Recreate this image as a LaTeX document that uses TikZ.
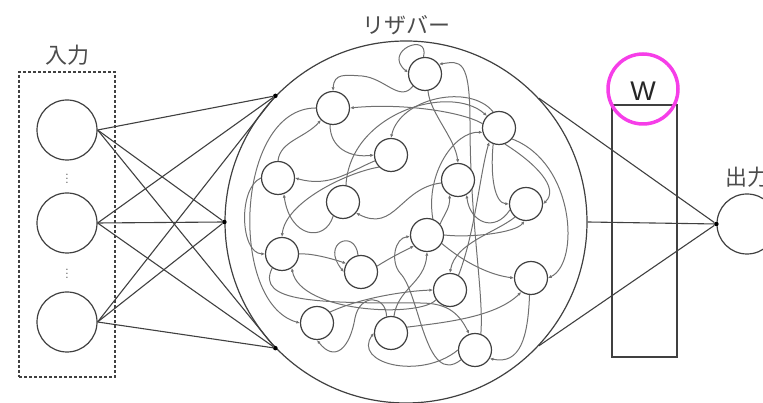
\documentclass[tikz,border=0pt]{standalone}
\usepackage{fontspec}
\setsansfont{Liberation Sans}
\newfontfamily\jpfont{Noto Sans CJK JP}
\usetikzlibrary{arrows.meta,positioning,backgrounds}
\definecolor{ringpink}{RGB}{246,62,232}
\definecolor{edgegray}{RGB}{64,64,64}
\definecolor{linkgray}{RGB}{112,112,112}

\begin{document}
\begin{tikzpicture}[x=1pt, y=1pt, >={Latex[length=3.6pt,width=3.2pt]},
    unit/.style={circle, draw=edgegray, line width=1.2pt, fill=white, minimum size=60pt, inner sep=0pt},
    neuron/.style={circle, draw=edgegray, line width=1.2pt, fill=white, minimum size=33pt, inner sep=0pt},
    link/.style={draw=linkgray, line width=1pt, ->},
    wire/.style={draw=edgegray, line width=1.1pt},
    tap/.style={circle, fill=black, inner sep=0pt, minimum size=4.5pt},
    vdot/.style={inner sep=0pt, text=black!65, font=\fontsize{14}{14}\selectfont},
    jplabel/.style={font=\jpfont\fontsize{22}{22}\selectfont, text=black!70}]
  \useasboundingbox (0,0) rectangle (763,403);

  % input layer
  \node[draw=edgegray, line width=1.1pt, dash pattern=on 3pt off 2pt,
        minimum width=96pt, minimum height=305pt] (inbox) at (67,178.5) {};
  \node[jplabel] (inlabel) at (67,348) {入力};
  \foreach \n/\y in {1/273, 2/180, 3/81}
    \node[unit] (in\n) at (67,\y) {};
  \node[vdot] (dotsA) at (67,227) {$\vdots$};
  \node[vdot] (dotsB) at (67,132) {$\vdots$};

  % reservoir
  \node[circle, draw=edgegray, line width=1.2pt, minimum size=362pt, inner sep=0pt] (res) at (406,181) {};
  \node[jplabel] (reslabel) at (406,378) {リザバー};
  \node[tap] (tapA) at (res.136) {};
  \node[tap] (tapB) at (res.180) {};
  \node[tap] (tapC) at (res.224) {};
  \foreach \n in {1,2,3}
    \foreach \t in {tapA,tapB,tapC}
      \draw[wire] (in\n.east) -- (\t);

  \foreach \n/\x/\y in {1/425/329, 2/333/295, 3/499/275, 4/391/248,
      5/278/225, 6/458/223, 7/343/201, 8/526/199, 9/427/168, 10/282/149,
      11/361/131, 12/531/125, 13/450/113, 14/317/80, 15/391/70, 16/475/53}
    \node[neuron] (r\n) at (\x,\y) {};

  % recurrent links, kept behind the units
  \begin{scope}[on background layer]
    \draw[link] (r1.95) .. controls (430,372) and (382,352) .. (r1.175);
    \draw[link] (r1.225) .. controls (400,300) and (385,325) .. (362,327)
                .. controls (345,328) and (334,330) .. (r2.north);
    \draw[link] (r16.70) .. controls (484,110) and (470,180) .. (470,280)
                .. controls (470,345) and (460,342) .. (r1.35);
    \draw[link] (r1.280) .. controls (430,290) and (455,265) .. (r6.north);
    \draw[link] (r3.165) .. controls (460,292) and (400,300) .. (r2.east);
    \draw[link] (r2.260) .. controls (330,255) and (350,245) .. (r4.west);
    \draw[link] (r5.north) .. controls (280,262) and (305,265) .. (r2.225);
    \draw[link] (r4.200) .. controls (350,232) and (330,215) .. (r5.east);
    \draw[link] (r7.80) .. controls (350,290) and (450,320) .. (r3.135);
    \draw[link] (r3.110) .. controls (470,320) and (400,305) .. (r4.north);
    \draw[link] (r9.70) .. controls (425,230) and (455,272) .. (r3.195);
    \draw[link] (r13.60) .. controls (475,170) and (480,230) .. (r3.235);
    \draw[link] (r7.235) .. controls (325,160) and (290,165) .. (r5.290);
    \draw[link] (r4.225) .. controls (345,230) and (285,200) .. (r10.north);
    \draw[link] (r5.west) .. controls (238,215) and (240,150) .. (r10.west);
    \draw[link] (r2.west) .. controls (235,295) and (228,100) .. (r14.west);
    \draw[link] (r6.190) .. controls (400,215) and (395,170) .. (r7.320);
    \draw[link] (r10.east) .. controls (310,150) and (330,145) .. (r11.150);
    \draw[link] (r11.100) .. controls (355,175) and (320,160) .. (r11.180);
    \draw[link] (r13.215) .. controls (420,85) and (300,90) .. (r10.305);
    \draw[link] (r10.235) .. controls (255,100) and (320,100) .. (420,100)
                .. controls (445,100) and (458,92) .. (r16.110);
    \draw[link] (r15.80) .. controls (398,115) and (425,120) .. (r9.south);
    \draw[link] (r14.40) .. controls (360,105) and (405,112) .. (r13.west);
    \draw[link] (r11.20) .. controls (390,145) and (400,150) .. (r9.220);
    \draw[link] (r8.230) .. controls (495,170) and (455,160) .. (r13.north);
    \draw[link] (r9.330) .. controls (465,140) and (490,128) .. (r12.west);
    \draw[link] (r3.320) .. controls (575,240) and (580,140) .. (r12.east);
    \draw[link] (r3.290) .. controls (535,240) and (560,215) .. (r8.east);
    \draw[link] (r3.250) .. controls (490,225) and (495,200) .. (r8.west);
    \draw[link] (r8.200) .. controls (495,170) and (470,180) .. (r6.300);
    \draw[link] (r9.40) .. controls (445,190) and (450,195) .. (r6.240);
    \draw[link] (r9.east) .. controls (470,165) and (515,170) .. (r8.265);
    \draw[link] (r12.265) .. controls (528,65) and (520,38) .. (r16.330);
    \draw[link] (r15.20) .. controls (440,80) and (495,85) .. (r12.235);
    \draw[link] (r15.105) .. controls (386,108) and (360,110) .. (355,85)
                .. controls (350,55) and (335,40) .. (r14.south);
    \draw[link] (r16.west) .. controls (420,22) and (352,40) .. (r15.west);
    \draw[link] (r16.215) .. controls (425,15) and (420,110) .. (400,130)
                .. controls (390,142) and (395,165) .. (r9.185);
  \end{scope}

  % readout
  \node[draw=edgegray, line width=1.1pt, minimum width=65pt, minimum height=252pt] (wbox) at (644.5,172) {};
  \node[font=\sffamily\fontsize{27}{27}\selectfont, text=black!85] (wtext) at (643,312) {W};
  \node[circle, draw=ringpink, line width=3.5pt, minimum size=70pt] (wring) at (643,314) {};
  \node[unit] (out) at (747,179) {};
  \node[jplabel] (outlabel) at (747,226) {出力};
  \node[tap] (tapD) at (out.west) {};
  \foreach \a in {43,0,-43}
    \draw[wire] (res.\a) -- (tapD);
\end{tikzpicture}
\end{document}
